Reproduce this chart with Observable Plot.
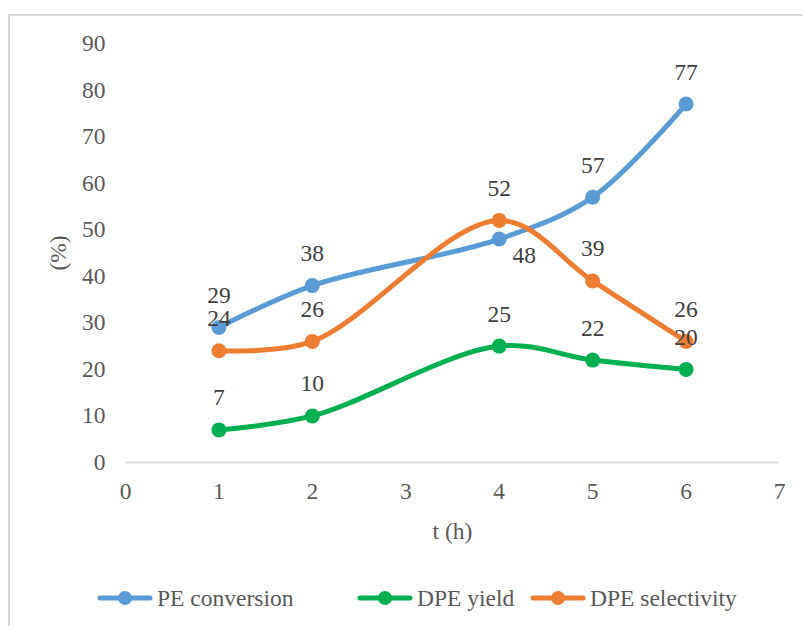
<!DOCTYPE html>
<html><head><meta charset="utf-8">
<script src="https://cdn.jsdelivr.net/npm/d3@7"></script>
<script src="https://cdn.jsdelivr.net/npm/@observablehq/plot@0.6"></script>
<style>
body{margin:0;background:#fff;}
#wrap{position:relative;width:803px;height:626px;overflow:hidden;font-family:"Liberation Serif",Tinos,Times,"DejaVu Serif",serif;background:#fff;}
#frame{position:absolute;left:8px;top:14px;width:830px;height:650px;border:2px solid #d9d9d9;box-sizing:border-box;}
#chart{position:absolute;left:0;top:0;}
.item{position:absolute;top:585px;height:26px;display:flex;align-items:center;font-size:23.5px;color:#595959;white-space:nowrap;}
.item svg{margin-right:4px;}
</style>
</head><body>
<div id="wrap"><div id="frame"></div><div id="chart"></div><div id="legend"></div></div>
<script>
const hours = [1, 2, 4, 5, 6];
const peConversion = [29, 38, 48, 57, 77];
const dpeYield = [7, 10, 25, 22, 20];
const dpeSelectivity = [24, 26, 52, 39, 26];
const seriesNames = ["PE conversion", "DPE yield", "DPE selectivity"];
const seriesColors = ["#5B9BD5", "#00B050", "#ED7D31"];
const xTicks = [0, 1, 2, 3, 4, 5, 6, 7];
const yTicks = [0, 10, 20, 30, 40, 50, 60, 70, 80, 90];

const seriesValues = [peConversion, dpeYield, dpeSelectivity];
const rows = [];
seriesNames.forEach((name, i) => {
  hours.forEach((h, j) => rows.push({series: name, t: h, v: seriesValues[i][j]}));
});
const color = {domain: seriesNames, range: seriesColors};
const isSpecial = d => d.series === "PE conversion" && d.t === 4;

const font = '"Liberation Serif", Tinos, Times, "DejaVu Serif", serif';
const chart = Plot.plot({
  width: 803,
  height: 570,
  marginLeft: 125,
  marginRight: 24,
  marginTop: 43,
  marginBottom: 108,
  style: {fontFamily: font, fontSize: "23.5px", color: "#595959", background: "transparent"},
  x: {domain: [0, 7], ticks: xTicks},
  y: {domain: [0, 90], ticks: yTicks},
  color: color,
  marks: [
    Plot.ruleY([0], {stroke: "#d9d9d9", strokeWidth: 2}),
    Plot.axisX({ticks: xTicks, tickSize: 0, tickPadding: 20, tickFormat: d => d, label: "t (h)", labelAnchor: "center", labelOffset: 76, labelArrow: "none", fill: "#595959", fontFamily: font}),
    Plot.axisY({ticks: yTicks, tickSize: 0, tickPadding: 20, tickFormat: d => d, label: "(%)", labelAnchor: "center", labelOffset: 76, labelArrow: "none", fill: "#595959", fontFamily: font}),
    ...seriesNames.flatMap(name => [
      Plot.line(rows.filter(d => d.series === name), {x: "t", y: "v", stroke: "series", strokeWidth: 5, curve: "catmull-rom", strokeLinecap: "round"}),
      Plot.dot(rows.filter(d => d.series === name), {x: "t", y: "v", fill: "series", r: 7.5, stroke: "none"})
    ]),
    Plot.text(rows.filter(d => !isSpecial(d)), {x: "t", y: "v", text: d => String(d.v), dy: -32, lineAnchor: "middle", fill: "#404040", fontSize: 23.5, fontFamily: font}),
    Plot.text(rows.filter(isSpecial), {x: "t", y: "v", text: d => String(d.v), dx: 25, dy: 16, lineAnchor: "middle", fill: "#404040", fontSize: 23.5, fontFamily: font})
  ]
});
document.getElementById("chart").appendChild(chart);

const legendX = [97, 357, 530];
const legend = document.getElementById("legend");
seriesNames.forEach((name, i) => {
  const item = document.createElement("div");
  item.className = "item";
  item.style.left = legendX[i] + "px";
  item.innerHTML = `<svg width="56" height="16"><line x1="3" y1="8" x2="53" y2="8" stroke="${seriesColors[i]}" stroke-width="5" stroke-linecap="round"/><circle cx="28" cy="8" r="7" fill="${seriesColors[i]}"/></svg><span>${name}</span>`;
  legend.appendChild(item);
});
</script>
</body></html>
